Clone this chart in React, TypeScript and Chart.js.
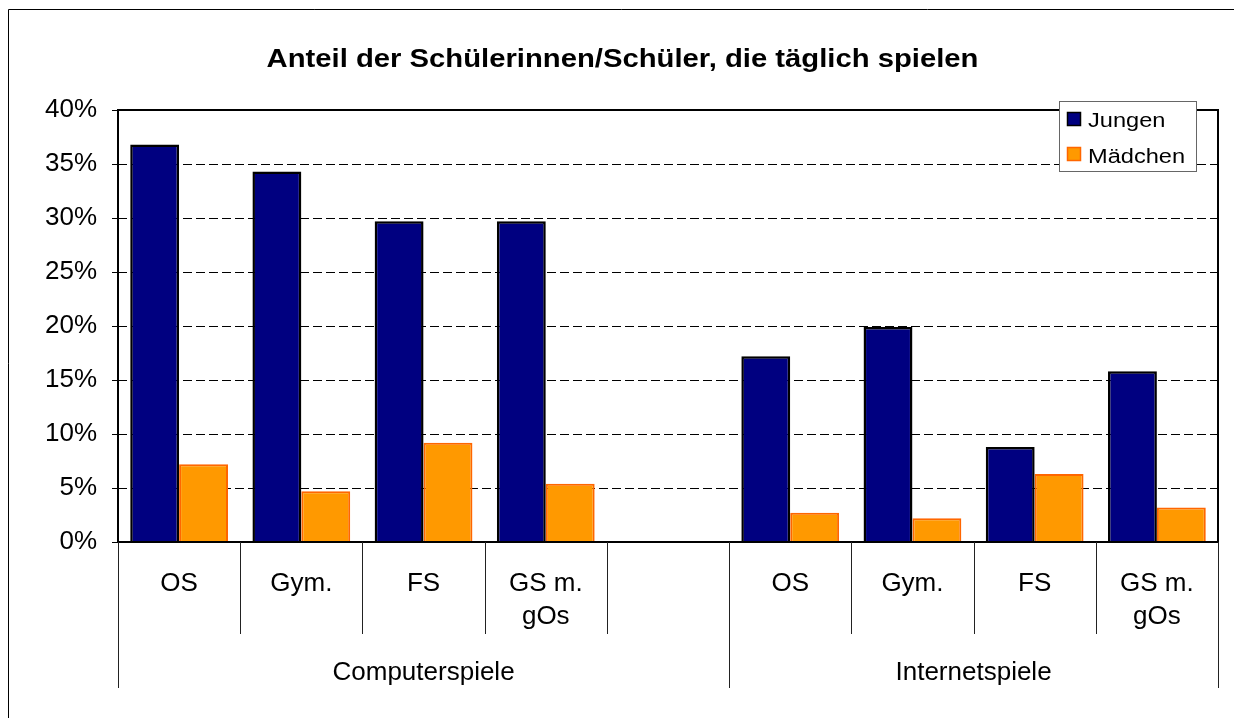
import React, { useEffect, useRef } from "react";
import { Chart, registerables } from "chart.js";

Chart.register(...registerables);

const TITLE = "Anteil der Schülerinnen/Schüler, die täglich spielen";
const categories: (string | string[])[] = ["OS", "Gym.", "FS", ["GS m.", "gOs"], "", "OS", "Gym.", "FS", ["GS m.", "gOs"]];
const groupLabels = ["Computerspiele", "Internetspiele"];
const groupStart = [0, 5];
const groupEnd = [5, 9];
const jungen: (number | null)[] = [36.8, 34.3, 29.7, 29.7, null, 17.2, 19.9, 8.8, 15.8];
const maedchen: (number | null)[] = [7.2, 4.7, 9.2, 5.4, null, 2.7, 2.2, 6.3, 3.2];
const seriesNames = ["Jungen", "Mädchen"];
const yMax = 40;
const yStep = 5;

const FONT = "'Liberation Sans', Arial, sans-serif";

function drawScaledText(ctx: CanvasRenderingContext2D, text: string, x: number, y: number, font: string, sx: number, align: CanvasTextAlign) {
  ctx.save();
  ctx.font = font;
  ctx.textAlign = align;
  ctx.textBaseline = "alphabetic";
  ctx.translate(x, y);
  ctx.scale(sx, 1);
  ctx.fillText(text, 0, 0);
  ctx.restore();
}

const decorPlugin = {
  id: "decor",
  beforeDatasetsDraw(chart: any) {
    const ctx = chart.ctx as CanvasRenderingContext2D;
    const { left, right } = chart.chartArea;
    const y = chart.scales.y;
    ctx.save();
    ctx.strokeStyle = "#000";
    ctx.lineWidth = 1;
    ctx.setLineDash([9, 4]);
    for (let v = yStep; v < yMax; v += yStep) {
      const py = Math.round(y.getPixelForValue(v)) + 0.5;
      ctx.beginPath();
      ctx.moveTo(left, py);
      ctx.lineTo(right, py);
      ctx.stroke();
    }
    ctx.restore();
  },
  afterDraw(chart: any) {
    const ctx = chart.ctx as CanvasRenderingContext2D;
    const { left, right, top, bottom } = chart.chartArea;
    const x = chart.scales.x;
    const n = categories.length;
    const slot = (right - left) / n;

    ctx.save();
    // outer frame (top and left edges only are inside the window)
    ctx.strokeStyle = "#000";
    ctx.lineWidth = 1;
    ctx.beginPath();
    ctx.moveTo(0.5, chart.height);
    ctx.lineTo(0.5, 1.5);
    ctx.lineTo(chart.width, 1.5);
    ctx.stroke();

    // plot frame
    ctx.lineWidth = 2;
    ctx.strokeRect(left, top, right - left, bottom - top);

    // category separators
    ctx.lineWidth = 1;
    ctx.strokeStyle = "#222";
    for (let i = 0; i <= n; i++) {
      const px = Math.round(left + i * slot) + 0.5;
      const isGroupEdge = groupStart.includes(i) || groupEnd.includes(i);
      ctx.beginPath();
      ctx.moveTo(px, bottom);
      ctx.lineTo(px, isGroupEdge ? 680 : 626);
      ctx.stroke();
    }

    // category labels
    ctx.fillStyle = "#000";
    ctx.font = `26px ${FONT}`;
    ctx.textAlign = "center";
    ctx.textBaseline = "alphabetic";
    categories.forEach((c, i) => {
      const cx = x.getPixelForValue(i);
      const lines = Array.isArray(c) ? c : [c];
      lines.forEach((t, k) => ctx.fillText(t, cx, 583.3 + k * 33));
    });

    // group labels
    groupLabels.forEach((g, gi) => {
      const cx = left + ((groupStart[gi] + groupEnd[gi]) / 2) * slot;
      ctx.fillText(g, cx, 671.5);
    });

    // title
    drawScaledText(ctx, TITLE, 614.5, 59.3, `bold 25px ${FONT}`, 1.17, "center");

    // legend
    ctx.fillStyle = "#fff";
    ctx.fillRect(1051, 93, 137, 70);
    ctx.strokeStyle = "#666";
    ctx.lineWidth = 1;
    ctx.strokeRect(1051.5, 93.5, 137, 70);
    const fills = ["#000080", "#FF9900"];
    const strokes = ["#000", "#FF6600"];
    const my = [104, 139];
    const ty = [119, 155];
    for (let k = 0; k < 2; k++) {
      ctx.fillStyle = fills[k];
      ctx.fillRect(1059, my[k], 14, 14);
      ctx.strokeStyle = strokes[k];
      ctx.lineWidth = 1.5;
      ctx.strokeRect(1059.5, my[k] + 0.5, 13, 13);
      ctx.fillStyle = "#000";
      drawScaledText(ctx, seriesNames[k], 1080, ty[k], `20px ${FONT}`, 1.18, "left");
    }
    ctx.restore();
  },
};

export default function App() {
  const ref = useRef<HTMLCanvasElement>(null);
  useEffect(() => {
    if (!ref.current) return;
    const chart = new Chart(ref.current, {
      type: "bar",
      data: {
        labels: categories.map((c) => (Array.isArray(c) ? c.join(" ") : c)),
        datasets: [
          {
            label: seriesNames[0],
            data: jungen,
            backgroundColor: "#000080",
            borderColor: "#000",
            borderWidth: 2.5,
            categoryPercentage: 0.8,
            barPercentage: 1.0,
          },
          {
            label: seriesNames[1],
            data: maedchen,
            backgroundColor: "#FF9900",
            borderColor: "#FF6600",
            borderWidth: 2,
            categoryPercentage: 0.8,
            barPercentage: 1.0,
          },
        ],
      },
      options: {
        animation: false,
        responsive: false,
        devicePixelRatio: 1,
        layout: { padding: { top: 102, right: 16, bottom: 176, left: 0 } },
        plugins: { legend: { display: false }, title: { display: false }, tooltip: { enabled: false } },
        scales: {
          x: { display: false },
          y: {
            min: 0,
            max: yMax,
            ticks: {
              stepSize: yStep,
              padding: 15,
              color: "#000",
              font: { family: FONT, size: 26 },
              callback: (v: any) => `${v}%`,
            },
            grid: { display: true, drawOnChartArea: false, drawTicks: true, tickLength: 6, tickColor: "#000", tickWidth: 1 },
            border: { display: false },
            afterFit: (s: any) => {
              s.width = 110;
            },
          },
        },
      },
      plugins: [decorPlugin],
    });
    return () => chart.destroy();
  }, []);
  return (
    <div
      style={{
        position: "absolute",
        left: 8,
        top: 8,
        width: 1226,
        height: 710,
        overflow: "hidden",
        background: "#fff",
      }}
    >
      <canvas ref={ref} width={1226} height={710} style={{ width: 1226, height: 710, display: "block" }} />
    </div>
  );
}
